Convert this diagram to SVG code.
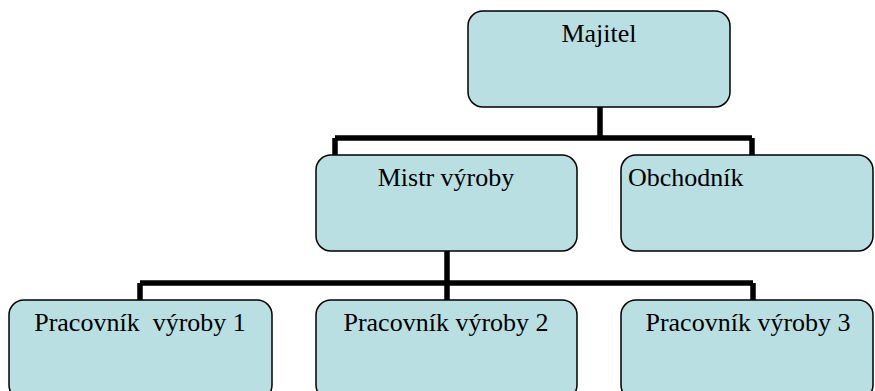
<svg xmlns="http://www.w3.org/2000/svg" width="875" height="391" viewBox="0 0 875 391">
<style>
.box{fill:#badfe3;stroke:#000;stroke-width:1.5}
.t{font-family:"Liberation Serif","Times New Roman",serif;font-size:26px;fill:#000}
.c{text-anchor:middle}
.ln{fill:none;stroke:#000;stroke-width:5.5}
</style>
<rect width="875" height="391" fill="#fff"/>
<g id="connectors">
<path class="ln" d="M600,107 V138 M335,138 H752 M335,138 V155 M752,138 V155"/>
<path class="ln" d="M447,251 V300 M140,283 H753 M140,283 V300 M753,283 V300"/>
</g>
<g id="majitel"><rect class="box" x="468" y="11" width="262" height="96" rx="15"/><text class="t c" x="599" y="42">Majitel</text></g>
<g id="mistr"><rect class="box" x="316" y="155" width="261" height="96" rx="15"/><text class="t c" x="446" y="186">Mistr výroby</text></g>
<g id="obchodnik"><rect class="box" x="621" y="155" width="252" height="96" rx="15"/><text class="t" x="628" y="186">Obchodník</text></g>
<g id="p1"><rect class="box" x="9" y="300" width="263" height="100" rx="15"/><text class="t c" x="140" y="331" xml:space="preserve">Pracovník  výroby 1</text></g>
<g id="p2"><rect class="box" x="316" y="300" width="261" height="100" rx="15"/><text class="t c" x="446" y="331">Pracovník výroby 2</text></g>
<g id="p3"><rect class="box" x="621" y="300" width="252" height="100" rx="15"/><text class="t c" x="748" y="331">Pracovník výroby 3</text></g>
</svg>
